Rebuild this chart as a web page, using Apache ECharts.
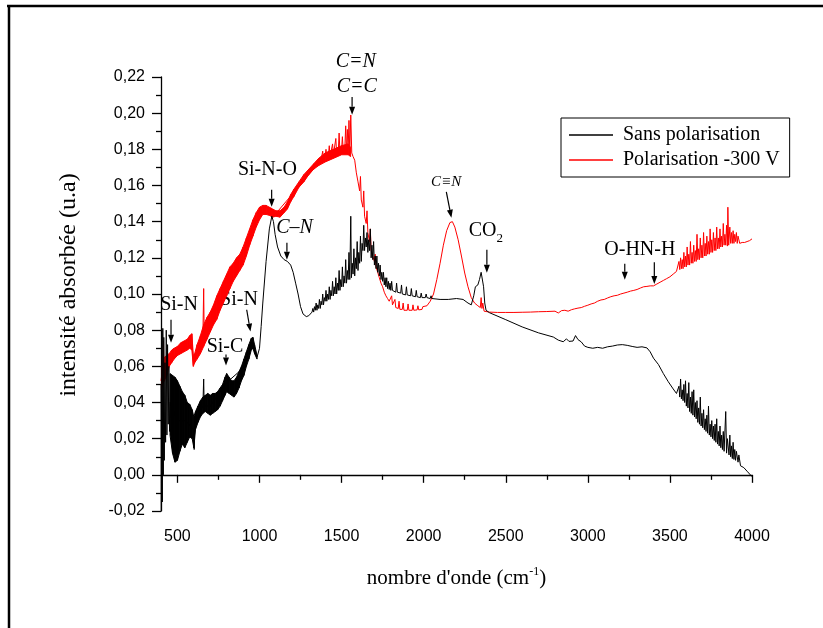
<!DOCTYPE html>
<html>
<head>
<meta charset="utf-8">
<script src="https://cdn.jsdelivr.net/npm/echarts@6.0.0/dist/echarts.min.js"></script>
<style>
  html, body { margin: 0; padding: 0; background: #fff; }
  #chart { width: 823px; height: 628px; }
</style>
</head>
<body>
<div id="chart"></div>
<script>
// nombre d'onde (cm-1) and absorbance

// dense fringe zones: [wn, lower edge, upper edge]
var blackBand = [
  [455, 0.022, 0.056], [470, 0.012, 0.055], [485, 0.007, 0.054], [500, 0.008, 0.052], [515, 0.013, 0.049],
  [530, 0.017, 0.046], [545, 0.015, 0.044], [560, 0.018, 0.040], [575, 0.021, 0.039], [590, 0.020, 0.036],
  [600, 0.015, 0.032], [610, 0.025, 0.035], [625, 0.029, 0.038], [640, 0.032, 0.041], [655, 0.034, 0.043],
  [670, 0.035, 0.044], [685, 0.034, 0.045], [700, 0.033, 0.044], [715, 0.034, 0.045], [730, 0.035, 0.045],
  [745, 0.036, 0.046], [760, 0.038, 0.048], [775, 0.041, 0.050], [790, 0.044, 0.054], [800, 0.046, 0.056],
  [815, 0.045, 0.054], [830, 0.044, 0.052], [845, 0.043, 0.052], [860, 0.045, 0.054], [875, 0.048, 0.057],
  [890, 0.052, 0.060], [905, 0.055, 0.064], [920, 0.060, 0.068], [935, 0.064, 0.072], [950, 0.069, 0.0755],
  [960, 0.070, 0.076], [970, 0.067, 0.072], [985, 0.064, 0.066]
];
var redBand = [
  [400, 0.047, 0.058], [410, 0.050, 0.062], [420, 0.052, 0.065], [435, 0.055, 0.066], [450, 0.060, 0.067],
  [465, 0.062, 0.069], [480, 0.064, 0.070], [500, 0.066, 0.071], [520, 0.067, 0.073], [540, 0.068, 0.074],
  [560, 0.069, 0.075], [575, 0.070, 0.077], [588, 0.069, 0.078], [597, 0.060, 0.066], [605, 0.062, 0.067],
  [620, 0.064, 0.072], [640, 0.067, 0.077], [660, 0.071, 0.083], [680, 0.075, 0.087], [700, 0.079, 0.090],
  [720, 0.083, 0.094], [740, 0.086, 0.099], [760, 0.091, 0.103], [780, 0.095, 0.107], [800, 0.099, 0.111],
  [820, 0.103, 0.115], [840, 0.107, 0.117], [860, 0.110, 0.120], [880, 0.113, 0.122], [900, 0.116, 0.126],
  [920, 0.121, 0.131], [940, 0.127, 0.136], [960, 0.132, 0.141], [980, 0.137, 0.145], [1000, 0.141, 0.148],
  [1020, 0.144, 0.149], [1040, 0.144, 0.149], [1060, 0.1435, 0.148], [1080, 0.1425, 0.147], [1100, 0.143, 0.146],
  [1125, 0.1425, 0.146], [1150, 0.145, 0.148], [1170, 0.147, 0.151], [1190, 0.151, 0.155], [1210, 0.154, 0.158],
  [1240, 0.159, 0.162], [1270, 0.162, 0.166], [1300, 0.166, 0.169], [1330, 0.169, 0.172], [1360, 0.171, 0.175],
  [1400, 0.173, 0.178], [1450, 0.175, 0.180], [1500, 0.177, 0.182], [1540, 0.177, 0.183], [1555, 0.176, 0.181]
];

// Sans polarisation
var blackStart = [
  [400, 0.050], [402, -0.020], [405, 0.080], [408, -0.015], [411, 0.081], [414, 0.000], [417, 0.076], [420, 0.008],
  [424, 0.062], [428, 0.018], [432, 0.080], [436, 0.022], [440, 0.072], [444, 0.028], [448, 0.060], [452, 0.024],
  [456, 0.040], [500, 0.030], [550, 0.030], [598, 0.025], [602, 0.014], [606, 0.028], [655, 0.038], [660, 0.053],
  [663, 0.038], [700, 0.038], [800, 0.051], [900, 0.059], [955, 0.073], [985, 0.065]
];
var blackMid = [
  [1000, 0.070], [1010, 0.082], [1020, 0.095], [1040, 0.118], [1060, 0.136], [1075, 0.143], [1085, 0.140],
  [1095, 0.133], [1110, 0.126], [1130, 0.121], [1150, 0.119], [1170, 0.118], [1190, 0.116], [1205, 0.112],
  [1220, 0.106], [1235, 0.100], [1250, 0.093], [1265, 0.089], [1285, 0.0875], [1300, 0.088],
  [1320, 0.090], [1325, 0.092], [1330, 0.090], [1335, 0.093], [1340, 0.091], [1345, 0.095], [1350, 0.091],
  [1355, 0.094], [1360, 0.092], [1365, 0.097], [1370, 0.092], [1375, 0.096], [1380, 0.094], [1385, 0.100],
  [1390, 0.094], [1395, 0.098], [1400, 0.096], [1405, 0.102], [1410, 0.096], [1415, 0.100], [1420, 0.097],
  [1425, 0.104], [1430, 0.097], [1435, 0.102], [1440, 0.099], [1445, 0.107], [1450, 0.099], [1455, 0.104],
  [1460, 0.100], [1465, 0.109], [1470, 0.100], [1475, 0.106], [1480, 0.102], [1485, 0.113], [1490, 0.102],
  [1495, 0.108], [1500, 0.104], [1505, 0.115], [1510, 0.104], [1515, 0.110], [1520, 0.106], [1525, 0.119],
  [1530, 0.106], [1535, 0.113], [1540, 0.108], [1545, 0.123], [1550, 0.108], [1556, 0.143], [1560, 0.109],
  [1565, 0.117], [1570, 0.111], [1575, 0.125], [1580, 0.110], [1585, 0.120], [1590, 0.114], [1595, 0.129],
  [1600, 0.113], [1605, 0.123], [1610, 0.117], [1615, 0.132], [1620, 0.118], [1625, 0.128], [1630, 0.124],
  [1635, 0.138], [1640, 0.124], [1645, 0.131], [1650, 0.126], [1655, 0.134], [1660, 0.123], [1665, 0.130],
  [1670, 0.124], [1675, 0.136], [1680, 0.120], [1685, 0.127], [1690, 0.119], [1695, 0.129], [1700, 0.116],
  [1705, 0.121], [1710, 0.114], [1715, 0.121], [1720, 0.112], [1725, 0.117], [1730, 0.110], [1735, 0.116],
  [1740, 0.108], [1745, 0.112], [1750, 0.107], [1755, 0.112], [1760, 0.105], [1765, 0.109], [1770, 0.104],
  [1775, 0.109], [1780, 0.103], [1785, 0.107], [1790, 0.1025], [1795, 0.106], [1800, 0.102], [1805, 0.107],
  [1810, 0.102], [1830, 0.101], [1835, 0.106], [1840, 0.101], [1860, 0.1005], [1865, 0.105], [1870, 0.100],
  [1890, 0.0995], [1895, 0.104], [1900, 0.0995], [1920, 0.099], [1925, 0.103], [1930, 0.099], [1950, 0.0985],
  [1955, 0.102], [1960, 0.0985], [1980, 0.098], [1985, 0.1005], [1990, 0.098], [2010, 0.098], [2015, 0.100],
  [2020, 0.098], [2040, 0.0975], [2045, 0.099], [2050, 0.0975], [2100, 0.097], [2150, 0.097], [2200, 0.0975],
  [2240, 0.097], [2270, 0.095], [2290, 0.094], [2305, 0.099], [2315, 0.104], [2330, 0.105], [2340, 0.108],
  [2350, 0.112], [2358, 0.113], [2365, 0.104], [2372, 0.095], [2380, 0.091]
];
var blackTail = [
  [2400, 0.0897], [2500, 0.0858], [2600, 0.0818], [2700, 0.0785], [2790, 0.0762], [2820, 0.0745], [2850, 0.0736],
  [2870, 0.0752], [2885, 0.0738], [2910, 0.0740], [2925, 0.0770], [2940, 0.0748], [2960, 0.0735], [2980, 0.0712],
  [3000, 0.0705], [3030, 0.0700], [3060, 0.0705], [3090, 0.0700], [3120, 0.0708], [3150, 0.0712], [3180, 0.0718],
  [3210, 0.0720], [3240, 0.0716], [3270, 0.0710], [3300, 0.0705], [3330, 0.0708], [3360, 0.0702], [3380, 0.068],
  [3400, 0.0645], [3430, 0.061], [3460, 0.056], [3490, 0.0515], [3520, 0.0475], [3540, 0.045],
  [3550, 0.044], [3555, 0.049], [3560, 0.043], [3565, 0.053], [3570, 0.042], [3575, 0.047], [3580, 0.041],
  [3585, 0.050], [3590, 0.040], [3595, 0.052], [3600, 0.038], [3605, 0.045], [3610, 0.037], [3615, 0.051],
  [3620, 0.035], [3625, 0.043], [3630, 0.034], [3635, 0.046], [3640, 0.033], [3645, 0.047], [3650, 0.032],
  [3655, 0.040], [3660, 0.031], [3665, 0.041], [3670, 0.029], [3675, 0.037], [3680, 0.028], [3685, 0.043],
  [3690, 0.027], [3695, 0.034], [3700, 0.026], [3705, 0.036], [3710, 0.025], [3715, 0.031], [3720, 0.024],
  [3725, 0.033], [3730, 0.023], [3735, 0.038], [3740, 0.022], [3745, 0.028], [3750, 0.021], [3755, 0.030],
  [3760, 0.020], [3765, 0.027], [3770, 0.019], [3775, 0.028], [3780, 0.018], [3785, 0.031], [3790, 0.017],
  [3795, 0.024], [3800, 0.016], [3805, 0.027], [3810, 0.015], [3815, 0.022], [3820, 0.014], [3825, 0.024],
  [3830, 0.013], [3840, 0.035], [3845, 0.012], [3850, 0.020], [3860, 0.011], [3865, 0.022], [3870, 0.010],
  [3875, 0.016], [3880, 0.009], [3885, 0.018], [3890, 0.0085], [3895, 0.014], [3900, 0.008], [3905, 0.013],
  [3915, 0.007], [3920, 0.011], [3930, 0.005], [3950, 0.004], [3970, 0.002], [4000, -0.001]
];

// Polarisation -300 V
var redStart = [
  [400, 0.052], [412, 0.060], [415, 0.074], [418, 0.056], [500, 0.068], [590, 0.072], [597, 0.061], [605, 0.064],
  [655, 0.076], [660, 0.103], [663, 0.077], [800, 0.104], [1000, 0.145], [1100, 0.1445], [1375, 0.174]
];
var redHump = [
  [1380, 0.175], [1385, 0.179], [1390, 0.174], [1400, 0.176], [1405, 0.180], [1410, 0.175], [1420, 0.177],
  [1425, 0.182], [1430, 0.176], [1440, 0.177], [1445, 0.183], [1450, 0.177], [1460, 0.178], [1465, 0.186],
  [1470, 0.177], [1480, 0.179], [1485, 0.189], [1490, 0.178], [1500, 0.180], [1505, 0.187], [1510, 0.179],
  [1520, 0.181], [1525, 0.193], [1530, 0.178], [1535, 0.191], [1540, 0.180], [1545, 0.196], [1550, 0.178],
  [1556, 0.199], [1562, 0.178], [1570, 0.176], [1580, 0.174], [1590, 0.167], [1600, 0.162], [1610, 0.157],
  [1615, 0.165], [1620, 0.152], [1630, 0.148], [1635, 0.157], [1640, 0.143], [1650, 0.139], [1655, 0.146],
  [1660, 0.134], [1670, 0.129], [1675, 0.136], [1680, 0.124], [1690, 0.121], [1700, 0.118], [1705, 0.122],
  [1710, 0.115], [1720, 0.112], [1730, 0.109], [1740, 0.106], [1750, 0.104], [1760, 0.101], [1770, 0.099],
  [1780, 0.0975], [1790, 0.096], [1800, 0.095], [1805, 0.099], [1810, 0.094], [1820, 0.093], [1825, 0.097],
  [1830, 0.0925], [1845, 0.092], [1850, 0.096], [1855, 0.0915], [1870, 0.0915], [1875, 0.095], [1880, 0.091],
  [1900, 0.091], [1905, 0.0945], [1910, 0.091], [1930, 0.091], [1935, 0.094], [1940, 0.091], [1960, 0.0912],
  [1965, 0.0935], [1970, 0.0912], [1990, 0.0915], [1995, 0.093], [2000, 0.092], [2020, 0.0935], [2040, 0.096],
  [2060, 0.100], [2080, 0.108], [2100, 0.117], [2120, 0.127], [2140, 0.135], [2160, 0.1395], [2175, 0.140],
  [2190, 0.137], [2210, 0.130], [2230, 0.121], [2250, 0.1116], [2270, 0.104], [2290, 0.098], [2310, 0.095],
  [2330, 0.0935], [2345, 0.0925], [2350, 0.098], [2355, 0.092], [2360, 0.095], [2368, 0.0905]
];
var redTail = [
  [2400, 0.090], [2450, 0.0898], [2500, 0.0898], [2550, 0.0898], [2600, 0.0899], [2650, 0.090], [2700, 0.0902],
  [2750, 0.0903], [2800, 0.0905], [2820, 0.0895], [2840, 0.0908], [2860, 0.091], [2880, 0.0905], [2900, 0.0913],
  [2920, 0.0918], [2940, 0.0922], [2960, 0.0925], [2980, 0.0932], [3000, 0.0938], [3020, 0.0945], [3040, 0.095],
  [3060, 0.096], [3080, 0.0967], [3100, 0.097], [3120, 0.0978], [3140, 0.0985], [3160, 0.099], [3180, 0.0993],
  [3200, 0.100], [3220, 0.1005], [3240, 0.101], [3260, 0.1016], [3280, 0.102], [3300, 0.1025], [3320, 0.1033],
  [3340, 0.104], [3360, 0.1042], [3380, 0.1045], [3400, 0.1045], [3420, 0.1055], [3440, 0.1065], [3460, 0.1075],
  [3480, 0.1085], [3500, 0.1095], [3520, 0.111], [3540, 0.1125],
  [3550, 0.113], [3555, 0.118], [3560, 0.1135], [3565, 0.120], [3570, 0.114], [3575, 0.119], [3580, 0.114],
  [3585, 0.123], [3590, 0.115], [3595, 0.121], [3600, 0.115], [3605, 0.126], [3610, 0.116], [3615, 0.122],
  [3620, 0.116], [3625, 0.129], [3630, 0.117], [3635, 0.123], [3640, 0.117], [3645, 0.127], [3650, 0.118],
  [3655, 0.124], [3660, 0.118], [3665, 0.133], [3670, 0.119], [3675, 0.125], [3680, 0.119], [3685, 0.131],
  [3690, 0.120], [3695, 0.127], [3700, 0.120], [3705, 0.134], [3710, 0.121], [3715, 0.128], [3720, 0.121],
  [3725, 0.132], [3730, 0.122], [3735, 0.129], [3740, 0.122], [3745, 0.136], [3750, 0.123], [3755, 0.130],
  [3760, 0.123], [3765, 0.134], [3770, 0.124], [3775, 0.131], [3780, 0.124], [3785, 0.137], [3790, 0.125],
  [3795, 0.131], [3800, 0.125], [3805, 0.136], [3810, 0.126], [3815, 0.132], [3820, 0.126], [3825, 0.139],
  [3830, 0.127], [3835, 0.133], [3840, 0.127], [3845, 0.138], [3850, 0.1265], [3853, 0.148], [3858, 0.127],
  [3865, 0.137], [3870, 0.128], [3875, 0.134], [3880, 0.128], [3885, 0.135], [3890, 0.128], [3895, 0.133],
  [3900, 0.129], [3905, 0.134], [3910, 0.128], [3915, 0.132], [3925, 0.128], [3940, 0.1285], [3955, 0.1285],
  [3970, 0.129], [3985, 0.1295], [4000, 0.1305]
];

var xLabels = [500, 1000, 1500, 2000, 2500, 3000, 3500, 4000];
var xMinorTicks = [750, 1250, 1750, 2250, 2750, 3250, 3750];

// labels and arrows, in data coordinates
var annotations = [
  { text: 'Si-N', at: [510, 0.0941], tail: [461, 0.0858], tip: [461, 0.0731] },
  { text: 'Si-N', at: [875, 0.0969], tail: [922, 0.0913], tip: [945, 0.0792] },
  { text: 'Si-C', at: [790, 0.0709], tail: [796, 0.0665], tip: [796, 0.0604] },
  { text: 'Si-N-O', at: [1048, 0.1687], tail: [1074, 0.1576], tip: [1074, 0.1483] },
  { text: 'C\u2013N', italic: true, at: [1213, 0.1369], tail: [1167, 0.1283], tip: [1167, 0.1189] },
  { text: 'C=N', italic: true, at: [1587, 0.2283] },
  { text: 'C=C', italic: true, at: [1593, 0.2145], tail: [1564, 0.209], tip: [1564, 0.1991] },
  { text: 'C\u2261N', italic: true, size: 15, at: [2137, 0.162], tail: [2138, 0.1565], tip: [2169, 0.1422] },
  { text: 'CO', sub: '2', at: [2359, 0.135], tail: [2385, 0.1245], tip: [2385, 0.1117] },
  { text: 'O-HN-H', at: [3317, 0.1242], tail: [3225, 0.1167], tip: [3225, 0.1079] },
  { tail: [3405, 0.1176], tip: [3405, 0.1055] }
];

var serif = 'Liberation Serif';
var sans = 'Liberation Sans';

// filled strip between the lower and upper edge of a fringe zone
function bandSeries (rows, color, key) {
  return {
    type: 'custom',
    name: key,
    data: rows,
    silent: true,
    clip: true,
    encode: { x: 0, y: [1, 2] },
    renderItem: function (params, api) {
      var i = params.dataIndexInside
      if (i >= params.dataInsideLength - 1) return null
      var a = api.coord([api.value(0, i), api.value(1, i)])
      var b = api.coord([api.value(0, i + 1), api.value(1, i + 1)])
      var c = api.coord([api.value(0, i + 1), api.value(2, i + 1)])
      var d = api.coord([api.value(0, i), api.value(2, i)])
      return {
        type: 'polygon',
        shape: { points: [a, b, c, d] },
        style: { fill: color, stroke: color, lineWidth: 1 }
      }
    }
  }
}

var myChart = echarts.init(document.getElementById('chart'))
var option = {
  animation: false,
  backgroundColor: '#fff',
  grid: [
    { left: 161, right: 71, top: 77, bottom: 117, outerBoundsMode: 'none' },
    { left: 161, right: 71, top: 77, bottom: 117, outerBoundsMode: 'none' }
  ],
  legend: {
    data: ['Sans polarisation', 'Polarisation -300 V'],
    orient: 'vertical',
    left: 561,
    top: 118,
    borderColor: '#000',
    borderWidth: 1,
    padding: [7, 10, 7, 8],
    itemGap: 5,
    itemWidth: 44,
    itemHeight: 1.5,
    icon: 'rect',
    selectedMode: false,
    textStyle: { fontFamily: serif, fontSize: 20, color: '#000', padding: [0, 0, 0, 5] }
  },
  xAxis: [{
    type: 'value',
    gridIndex: 0,
    min: 400,
    max: 4000,
    name: 'nombre d\'onde (cm{sup|-1})',
    nameLocation: 'middle',
    nameGap: 55,
    nameTextStyle: {
      fontFamily: serif, fontSize: 21, color: '#000',
      rich: { sup: { fontFamily: serif, fontSize: 12, color: '#000', verticalAlign: 'top', padding: [0, 0, 12, 0] } }
    },
    axisLine: { lineStyle: { color: '#000', width: 1.3 } },
    axisTick: { show: true, inside: false, length: 8, customValues: xLabels, lineStyle: { color: '#000', width: 1.3 } },
    axisLabel: {
      customValues: xLabels, margin: 18, fontFamily: sans, fontSize: 16, color: '#000',
      formatter: function (v) { return String(v) }
    },
    splitLine: { show: false }
  }, {
    type: 'value',
    gridIndex: 1,
    min: 400,
    max: 4000,
    axisLine: { show: false },
    axisTick: { show: true, inside: false, length: 5, customValues: xMinorTicks, lineStyle: { color: '#000', width: 1.3 } },
    axisLabel: { show: false },
    splitLine: { show: false }
  }],
  yAxis: [{
    type: 'value',
    gridIndex: 0,
    min: -0.02,
    max: 0.22,
    interval: 0.02,
    name: 'intensité absorbée (u.a)',
    nameLocation: 'middle',
    nameGap: 80,
    nameTextStyle: { fontFamily: serif, fontSize: 24, color: '#000', padding: [0, 0, 0, 18] },
    axisLine: { show: true, lineStyle: { color: '#000', width: 1.3 } },
    axisTick: { show: true, inside: false, length: 9, lineStyle: { color: '#000', width: 1.3 } },
    minorTick: { show: true, splitNumber: 2, length: 5, lineStyle: { color: '#000', width: 1.3 } },
    axisLabel: {
      margin: 16, fontFamily: sans, fontSize: 16, color: '#000',
      formatter: function (v) { return v.toFixed(2).replace('.', ',') }
    },
    splitLine: { show: false }
  }, {
    type: 'value',
    gridIndex: 1,
    min: -0.02,
    max: 0.22,
    show: false
  }],
  series: [
    bandSeries(redBand, '#ff0000', 'redBand'),
    {
      name: 'Polarisation -300 V',
      type: 'line',
      data: redStart.concat(redHump, redTail),
      showSymbol: false,
      symbol: 'none',
      color: '#ff0000',
      lineStyle: { color: '#ff0000', width: 1 },
      emphasis: { disabled: true }
    },
    bandSeries(blackBand, '#000000', 'blackBand'),
    {
      name: 'Sans polarisation',
      type: 'line',
      data: blackStart.concat(blackMid, blackTail),
      showSymbol: false,
      symbol: 'none',
      color: '#000000',
      lineStyle: { color: '#000000', width: 1 },
      emphasis: { disabled: true }
    }
  ]
}
myChart.setOption(option)

// frame of the original figure, then the peak labels with their arrows
var graphics = [
  { type: 'line', shape: { x1: 7, y1: 6, x2: 823, y2: 6 }, style: { stroke: '#000', lineWidth: 2.5 } },
  { type: 'line', shape: { x1: 9, y1: 5, x2: 9, y2: 628 }, style: { stroke: '#000', lineWidth: 2.5 } }
]
function px (p) { return myChart.convertToPixel({ gridIndex: 0 }, p) }
annotations.forEach(function (a) {
  if (a.text) {
    var t = px(a.at)
    graphics.push({
      type: 'text', x: t[0], y: t[1],
      style: {
        text: a.text, fill: '#000', fontFamily: serif, fontSize: a.size || 20,
        fontStyle: a.italic ? 'italic' : 'normal', align: 'center', verticalAlign: 'middle'
      }
    })
    if (a.sub) {
      graphics.push({
        type: 'text', x: t[0] + 14, y: t[1] + 8,
        style: { text: a.sub, fill: '#000', fontFamily: serif, fontSize: 13, align: 'left', verticalAlign: 'middle' }
      })
    }
  }
  if (a.tip) {
    var p0 = px(a.tail)
    var p1 = px(a.tip)
    var dx = p1[0] - p0[0]
    var dy = p1[1] - p0[1]
    var len = Math.sqrt(dx * dx + dy * dy)
    var ux = dx / len
    var uy = dy / len
    var hl = 8
    var hw = 3
    var bx = p1[0] - ux * hl
    var by = p1[1] - uy * hl
    graphics.push({ type: 'line', shape: { x1: p0[0], y1: p0[1], x2: bx, y2: by }, style: { stroke: '#000', lineWidth: 1.2 } })
    graphics.push({
      type: 'polygon',
      shape: { points: [[p1[0], p1[1]], [bx - uy * hw, by + ux * hw], [bx + uy * hw, by - ux * hw]] },
      style: { fill: '#000' }
    })
  }
})
myChart.setOption({ graphic: graphics })
</script>
</body>
</html>
